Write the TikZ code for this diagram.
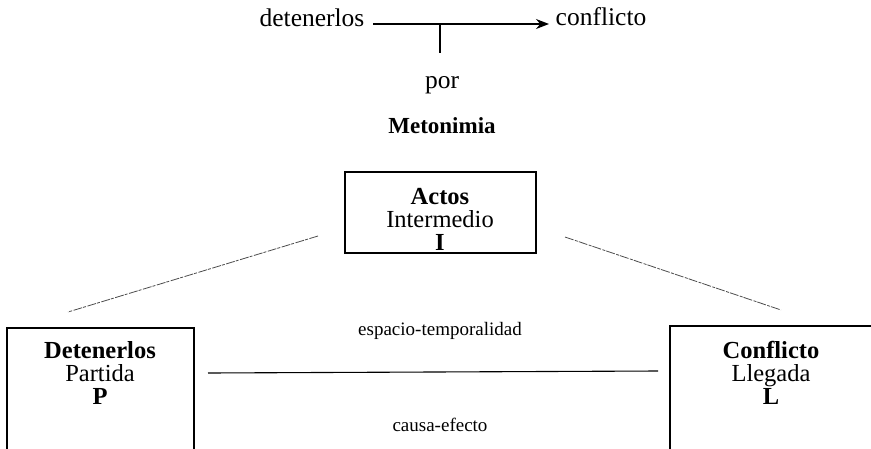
\documentclass[tikz,border=0pt]{standalone}
\usepackage{fontspec}
\setmainfont{Liberation Serif}
\usetikzlibrary{arrows.meta}
\begin{document}
\begin{tikzpicture}[x=1pt,y=-1pt,
  lbl/.style={inner sep=0pt, font=\fontsize{25.5}{25.5}\selectfont},
  boxtext/.style={inner sep=0pt, align=center, font=\fontsize{24.5}{23}\selectfont},
  frame/.style={draw, line width=1.6pt, inner sep=0pt},
  faint/.style={line width=0.8pt, black!70, dash pattern=on 9pt off 1.5pt on 3pt off 1pt},
  plainline/.style={line width=1.1pt},
  arrowline/.style={line width=1.2pt, -{Stealth[length=13pt,width=10pt]}},
  small/.style={inner sep=0pt, font=\fontsize{19}{19}\selectfont}]
\useasboundingbox (0,0) rectangle (871,448);

% top relation
\node[lbl] (det) at (312,18) {detenerlos};
\node[lbl] (con) at (601,17) {conflicto};
\coordinate (as) at (373,24);
\coordinate (ae) at (549,24);
\coordinate (tk) at (440,24);
\coordinate (tkb) at (440,53);
\draw[arrowline] (as) -- (ae);
\draw[plainline] (tk) -- (tkb);
\node[lbl] (por) at (442,85) {por};
\node[lbl, font=\fontsize{23}{23}\selectfont\bfseries] (met) at (442,126) {Metonimia};

% boxes
\node[frame, minimum width=191pt, minimum height=81pt] (Ibox) at (440.5,212.5) {};
\node[boxtext] (Itext) at (440,219) {\textbf{Actos}\\Intermedio\\\textbf{I}};

\node[frame, minimum width=187pt, minimum height=132pt] (Pbox) at (100.5,394) {};
\node[boxtext] (Ptext) at (100,373) {\textbf{Detenerlos}\\Partida\\\textbf{P}};

\node[frame, minimum width=210pt, minimum height=134pt] (Lbox) at (775,393) {};
\node[boxtext] (Ltext) at (771,373) {\textbf{Conflicto}\\Llegada\\\textbf{L}};

% diagonal and horizontal connectors
\coordinate (dl1) at (318,236);
\coordinate (dl2) at (68,312);
\coordinate (dr1) at (565,237);
\coordinate (dr2) at (781,310);
\draw[faint] (dl1) -- (dl2);
\draw[faint] (dr1) -- (dr2);
\coordinate (hl) at (208,373);
\coordinate (hr) at (658,371);
\draw[plainline] (hl) -- (hr);

\node[small] (esp) at (440,331) {espacio-temporalidad};
\node[small] (cau) at (440,425) {causa-efecto};
\end{tikzpicture}
\end{document}
